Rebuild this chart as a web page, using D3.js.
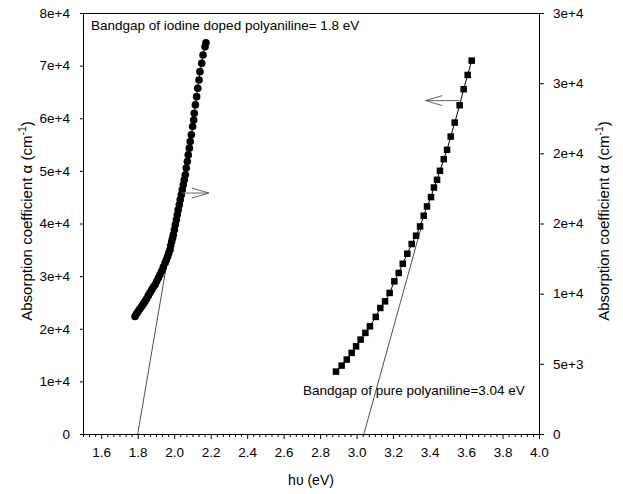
<!DOCTYPE html>
<html>
<head>
<meta charset="utf-8">
<script src="https://cdn.jsdelivr.net/npm/d3@7"></script>
<style>
  body { margin: 0; background: #fff; }
  svg text { font-family: "Liberation Sans", Arial, sans-serif; fill: #000; }
</style>
</head>
<body>
<svg id="chart" width="623" height="494"></svg>
<script>
// Iodine doped polyaniline (read against the right-hand axis)
const dopedEnergy = [1.785, 1.794, 1.803, 1.812, 1.822, 1.831, 1.840, 1.849, 1.858, 1.867,
  1.877, 1.885, 1.895, 1.904, 1.913, 1.922, 1.931, 1.940, 1.950, 1.957,
  1.964, 1.970, 1.977, 1.981, 1.986, 1.991, 1.995, 2.001, 2.006, 2.012,
  2.017, 2.022, 2.028, 2.033, 2.039, 2.044, 2.050, 2.055, 2.061, 2.066,
  2.072, 2.077, 2.083, 2.088, 2.094, 2.101, 2.107, 2.110, 2.116, 2.123,
  2.129, 2.136, 2.141, 2.151, 2.158, 2.169, 2.174];
const dopedAlpha = [8380, 8560, 8740, 8920, 9100, 9270, 9450, 9640, 9860, 10070,
  10280, 10460, 10640, 10880, 11120, 11350, 11590, 11890, 12180, 12420,
  12650, 12900, 13130, 13430, 13720, 13950, 14200, 14550, 14910, 15270,
  15620, 15980, 16330, 16690, 17050, 17400, 17760, 18110, 18470, 18950,
  19420, 19890, 20370, 20840, 21320, 21910, 22380, 22860, 23450, 24040,
  24640, 25230, 25820, 26420, 27010, 27600, 27880];

// Pure polyaniline (read against the left-hand axis)
const pureEnergy = [2.887, 2.918, 2.946, 2.973, 2.997, 3.022, 3.048, 3.073, 3.105, 3.130,
  3.156, 3.181, 3.207, 3.231, 3.253, 3.278, 3.302, 3.326, 3.348, 3.368,
  3.386, 3.408, 3.424, 3.441, 3.457, 3.478, 3.496, 3.516, 3.538, 3.565,
  3.587, 3.609, 3.631];
const pureAlpha = [11860, 13000, 14140, 15410, 16660, 17940, 19210, 20460, 22250, 23950,
  25210, 26800, 29000, 30600, 32360, 34260, 36100, 37680, 39440, 41470,
  43240, 45020, 46840, 48300, 50010, 52230, 54000, 56520, 59180, 62480,
  65520, 68230, 70950];

// Extrapolated band-edge lines: [energy, alpha]
const dopedTangent = [[1.80, 0], [2.01, 16000]];
const pureTangent = [[3.04, 0], [3.36, 40000]];

// Arrows pointing each series to its axis: [energy at tail, energy at head, alpha]
const dopedArrow = [2.04, 2.19, 17170];
const pureArrow = [3.563, 3.377, 63350];

// Axis ticks
const xTicks = [1.6, 1.8, 2.0, 2.2, 2.4, 2.6, 2.8, 3.0, 3.2, 3.4, 3.6, 3.8, 4.0];
const xTickLabels = ["1.6", "1.8", "2.0", "2.2", "2.4", "2.6", "2.8", "3.0", "3.2", "3.4", "3.6", "3.8", "4.0"];
const leftTicks = [0, 10000, 20000, 30000, 40000, 50000, 60000, 70000, 80000];
const leftTickLabels = ["0", "1e+4", "2e+4", "3e+4", "4e+4", "5e+4", "6e+4", "7e+4", "8e+4"];
const rightTicks = [0, 5000, 10000, 15000, 20000, 25000, 30000];
const rightTickLabels = ["0", "5e+3", "1e+4", "2e+4", "2e+4", "3e+4", "3e+4"];

const svg = d3.select("#chart");
const L = 83, R = 539, T = 13, B = 434;
const fs = 13.5;

const x = d3.scaleLinear().domain([1.5, 4.0]).range([L, R]);
const yL = d3.scaleLinear().domain([0, 80000]).range([B, T]);
const yR = d3.scaleLinear().domain([0, 30000]).range([B, T]);

// Axes
const minorX = d3.range(0, 76).map(i => 1.5 + i / 30)
  .filter(v => !xTicks.some(t => Math.abs(t - v) < 1e-6));

const gxMinor = svg.append("g").attr("transform", `translate(0,${B})`)
  .call(d3.axisBottom(x).tickValues(minorX).tickSize(3).tickFormat(""));
gxMinor.select(".domain").remove();

const gx = svg.append("g").attr("transform", `translate(0,${B})`)
  .call(d3.axisBottom(x).tickValues(xTicks).tickSize(5).tickSizeOuter(0)
    .tickPadding(8).tickFormat((d, i) => xTickLabels[i]));

const gl = svg.append("g").attr("transform", `translate(${L},0)`)
  .call(d3.axisLeft(yL).tickValues(leftTicks).tickSize(3).tickSizeOuter(0)
    .tickPadding(10).tickFormat((d, i) => leftTickLabels[i]));

const gr = svg.append("g").attr("transform", `translate(${R},0)`)
  .call(d3.axisRight(yR).tickValues(rightTicks).tickSize(5).tickSizeOuter(0)
    .tickPadding(9).tickFormat((d, i) => rightTickLabels[i]));

// top frame line
svg.append("line").attr("x1", L).attr("x2", R + 0.5)
  .attr("y1", T + 0.5).attr("y2", T + 0.5).attr("stroke", "#000");

svg.selectAll(".tick text").attr("font-size", fs)
  .attr("font-family", '"Liberation Sans", Arial, sans-serif');
svg.selectAll(".domain, .tick line").attr("stroke", "#000");

// Axis titles
svg.append("text").attr("x", (L + R) / 2).attr("y", 485)
  .attr("text-anchor", "middle").attr("font-size", 14).text("hυ (eV)");

function yTitle(xPos) {
  const t = svg.append("text")
    .attr("transform", `translate(${xPos},221) rotate(-90)`)
    .attr("text-anchor", "middle").attr("font-size", 15);
  t.append("tspan").text("Absorption coefficient α (cm");
  t.append("tspan").attr("dy", -6).attr("font-size", 10.5).text("-1");
  t.append("tspan").attr("dy", 6).text(")");
}
yTitle(32);
yTitle(609);

// Tangent lines
const lineL = d3.line().x(d => x(d[0])).y(d => yL(d[1]));
const lineR = d3.line().x(d => x(d[0])).y(d => yR(d[1]));
svg.append("path").attr("d", lineR(dopedTangent)).attr("fill", "none")
  .attr("stroke", "#222").attr("stroke-width", 0.8);
svg.append("path").attr("d", lineL(pureTangent)).attr("fill", "none")
  .attr("stroke", "#222").attr("stroke-width", 0.8);

// Series: doped (circles, right axis)
const doped = dopedEnergy.map((e, i) => [e, dopedAlpha[i]]);
svg.append("path").attr("d", lineR(doped)).attr("fill", "none")
  .attr("stroke", "#000").attr("stroke-width", 1);
svg.append("g").selectAll("circle").data(doped).join("circle")
  .attr("cx", d => x(d[0])).attr("cy", d => yR(d[1])).attr("r", 3.8).attr("fill", "#000");

// Series: pure (squares, left axis)
const pure = pureEnergy.map((e, i) => [e, pureAlpha[i]]);
svg.append("path").attr("d", lineL(pure)).attr("fill", "none")
  .attr("stroke", "#000").attr("stroke-width", 1);
const sq = 6.5;
svg.append("g").selectAll("rect").data(pure).join("rect")
  .attr("x", d => x(d[0]) - sq / 2).attr("y", d => yL(d[1]) - sq / 2)
  .attr("width", sq).attr("height", sq).attr("fill", "#000");

// Arrows
function arrow(x0, x1, y) {
  const dir = Math.sign(x1 - x0);
  const g = svg.append("g").attr("stroke", "#666").attr("stroke-width", 1).attr("fill", "none");
  g.append("line").attr("x1", x0).attr("x2", x1).attr("y1", y).attr("y2", y);
  g.append("polyline").attr("points",
    `${x1 - dir * 17},${y - 5} ${x1},${y} ${x1 - dir * 17},${y + 5}`);
}
arrow(x(dopedArrow[0]), x(dopedArrow[1]), yR(dopedArrow[2]));
arrow(x(pureArrow[0]), x(pureArrow[1]), yL(pureArrow[2]));

// Annotations
svg.append("text").attr("x", 91).attr("y", 30).attr("font-size", fs)
  .text("Bandgap of iodine doped polyaniline= 1.8 eV");
svg.append("text").attr("x", 303).attr("y", 395).attr("font-size", fs)
  .text("Bandgap of pure polyaniline=3.04 eV");
</script>
</body>
</html>
